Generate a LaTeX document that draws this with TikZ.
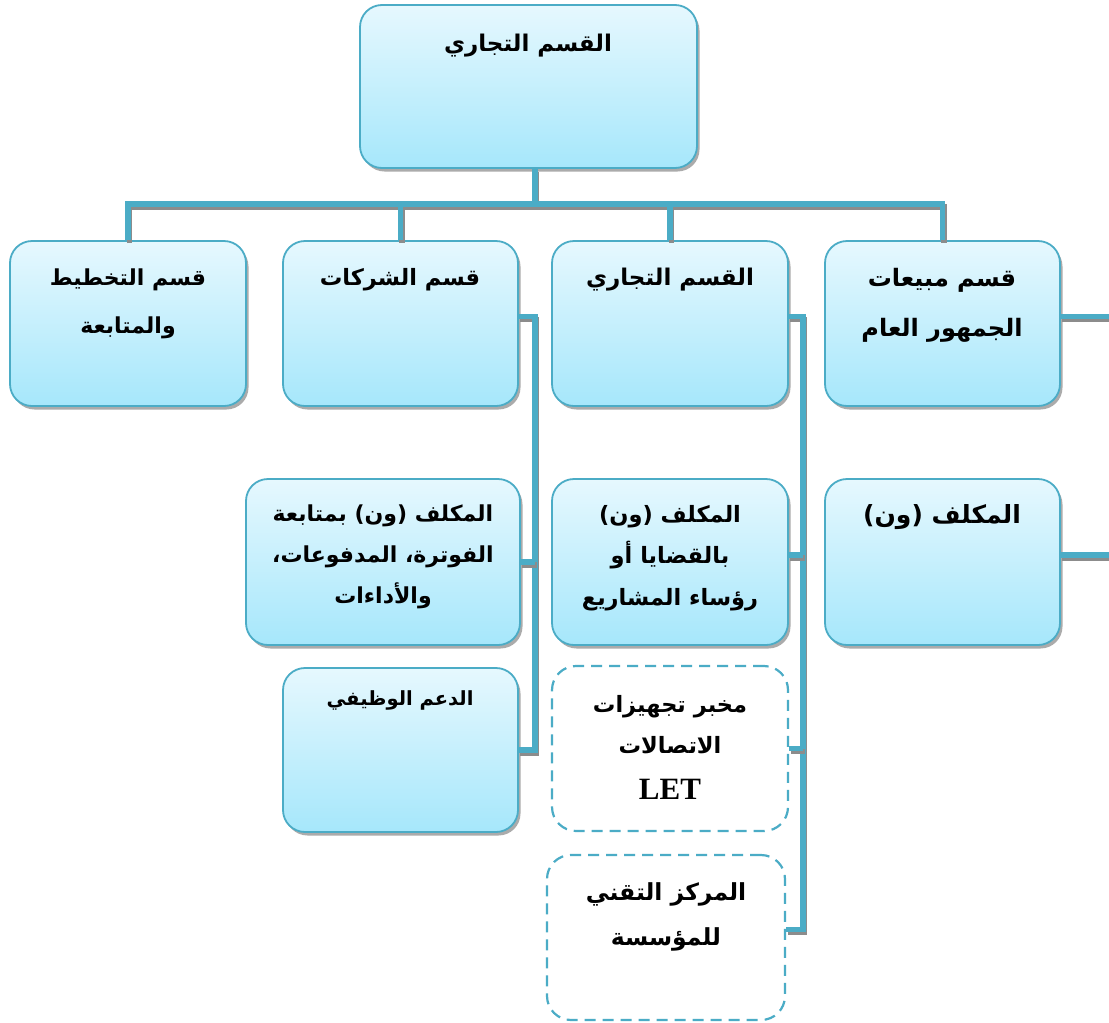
\documentclass[tikz,border=0pt]{standalone}
\usepackage{fontspec}
\usetikzlibrary{shadows}
\TeXXeTstate=1
\setmainfont{Liberation Serif}
\newfontfamily\arabicfont[Script=Arabic]{DejaVu Sans}
\definecolor{edge}{HTML}{4BACC6}
\definecolor{topfill}{HTML}{E6F8FE}
\definecolor{botfill}{HTML}{A6E7FB}
\newcommand{\ar}[1]{\beginR #1\endR}
\newcommand{\arsize}[2]{\arabicfont\bfseries\fontsize{#1}{#2}\selectfont}
\tikzset{
  unit/.style={rounded corners=22pt, draw=edge, line width=1.8pt,
    top color=topfill, bottom color=botfill, inner sep=0pt,
    drop shadow={shadow xshift=2.5pt, shadow yshift=-3.5pt, opacity=.55, fill=black!60}},
  pending/.style={rounded corners=24pt, draw=edge, line width=2.2pt,
    dash pattern=on 11pt off 7pt, fill=white, inner sep=0pt},
  lbl/.style={font=\arsize{23}{47}, align=center, inner sep=0pt},
  link/.style={draw=edge, line width=5.5pt,
    preaction={draw=black!45, line width=5.5pt, transform canvas={shift={(1.5pt,-3pt)}}}},
}
\begin{document}
\begin{tikzpicture}[x=1pt,y=-1pt]
\useasboundingbox[fill=white] (0,0) rectangle (1109,1023);

% boxes
\node[unit, minimum width=337pt, minimum height=163pt] (top) at (528.5,86.5) {};
\node[unit, minimum width=236pt, minimum height=165pt] (pA) at (128,323.5) {};
\node[unit, minimum width=235pt, minimum height=165pt] (pB) at (400.5,323.5) {};
\node[unit, minimum width=236pt, minimum height=165pt] (pC) at (670,323.5) {};
\node[unit, minimum width=235pt, minimum height=165pt] (pD) at (942.5,323.5) {};
\node[unit, minimum width=274pt, minimum height=166pt] (c1) at (383,562) {};
\node[unit, minimum width=236pt, minimum height=166pt] (c2) at (670,562) {};
\node[unit, minimum width=235pt, minimum height=166pt] (c3) at (942.5,562) {};
\node[unit, minimum width=235pt, minimum height=164pt] (d1) at (400.5,750) {};
\node[pending, minimum width=236pt, minimum height=165pt] (e1) at (670,748.5) {};
\node[pending, minimum width=238pt, minimum height=165pt] (e2) at (666,937.5) {};

% labels
\node[lbl] (tTop) at (528,46) {\ar{القسم التجاري}};
\node[lbl, font=\arsize{22}{48}] (tA) at (128,304) {\ar{قسم التخطيط}\\\ar{والمتابعة}};
\node[lbl, font=\arsize{22.5}{47}] (tB) at (400,280) {\ar{قسم الشركات}};
\node[lbl] (tC) at (670,280) {\ar{القسم التجاري}};
\node[lbl, font=\arsize{24}{50}] (tD) at (942,305) {\ar{قسم مبيعات}\\\ar{الجمهور العام}};
\node[lbl, font=\arsize{22}{41}] (tc1) at (383,557)
  {\ar{المكلف (ون) بمتابعة}\\\ar{الفوترة، المدفوعات،}\\\ar{والأداءات}};
\node[lbl, font=\arsize{22.5}{41.5}] (tc2) at (670,558)
  {\ar{المكلف (ون)}\\\ar{بالقضايا أو}\\\ar{رؤساء المشاريع}};
\node[lbl, font=\arsize{25}{47}] (tc3) at (942,517) {\ar{المكلف (ون)}};
\node[lbl, font=\arsize{19.5}{41}] (td1) at (400,700) {\ar{الدعم الوظيفي}};
\node[lbl, font=\arsize{22.5}{41}] (te1) at (670,725)
  {\ar{مخبر تجهيزات}\\\ar{الاتصالات}};
\node[font=\bfseries\fontsize{31}{31}\selectfont, inner sep=0pt] (te1b) at (670,789) {LET};
\node[lbl, font=\arsize{23.5}{45}] (te2) at (666,917)
  {\ar{المركز التقني}\\\ar{للمؤسسة}};

% connectors
\coordinate (hub) at (535,204);
\coordinate (xB) at (535,0);
\coordinate (xC) at (803,0);
\coordinate (rim) at (1109,0);
\coordinate (pBr) at ([yshift=7pt]pB.east);
\coordinate (pCr) at ([yshift=7pt]pC.east);
\coordinate (pDr) at ([yshift=7pt]pD.east);
\coordinate (c2r) at ([yshift=7pt]c2.east);
\coordinate (c3r) at ([yshift=7pt]c3.east);
\coordinate (e2r) at ([yshift=8pt]e2.east);

\draw[link] (top.south -| hub) -- (hub);
\draw[link] (pA.north) -- (pA.north |- hub) -- (pD.north |- hub) -- (pD.north);
\draw[link] (pB.north |- hub) -- (pB.north);
\draw[link] (pC.north |- hub) -- (pC.north);

\draw[link] (pBr) -- (pBr -| xB) -- (d1.east -| xB) -- (d1.east);
\draw[link] (c1.east -| xB) -- (c1.east);

\draw[link] (pCr) -- (pCr -| xC) -- (e2r -| xC) -- (e2r);
\draw[link] (c2r -| xC) -- (c2r);
\draw[link] (e1.east -| xC) -- (e1.east);

\draw[link] (pDr) -- (pDr -| rim);
\draw[link] (c3r) -- (c3r -| rim);
\end{tikzpicture}
\end{document}
